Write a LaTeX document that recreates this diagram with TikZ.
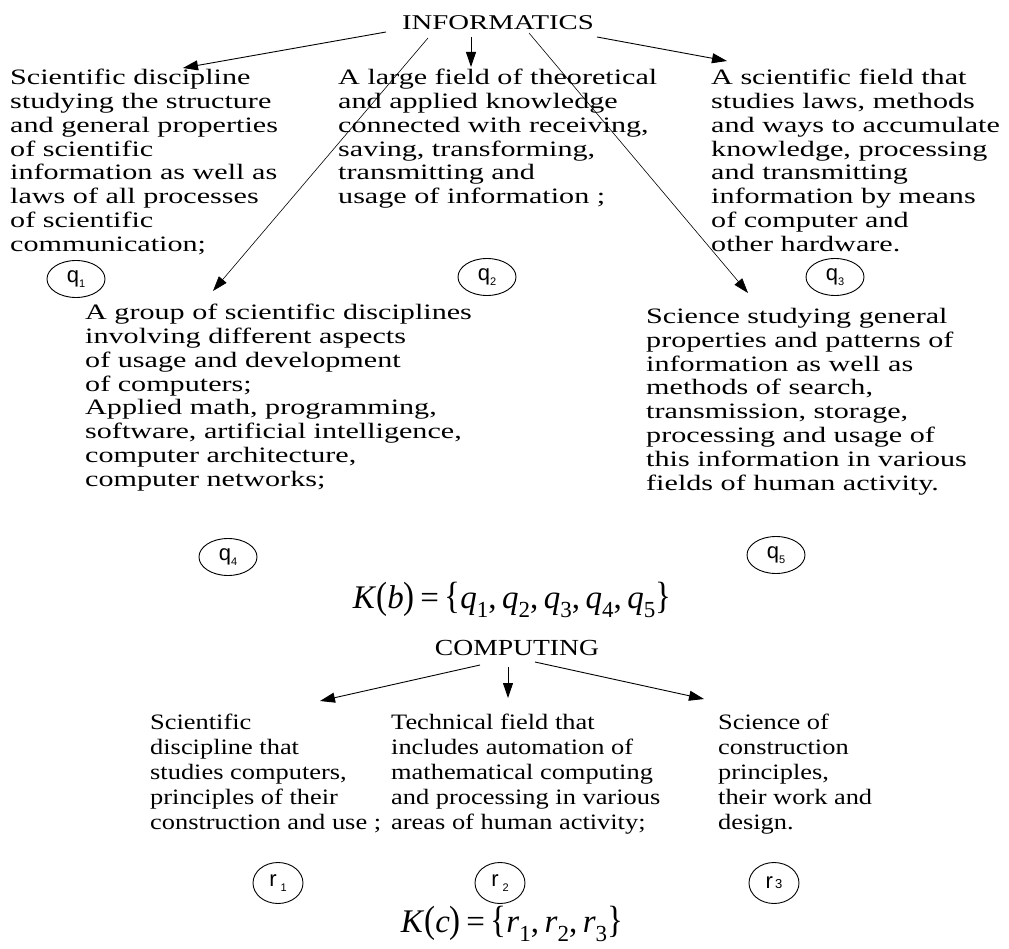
\documentclass[tikz,border=0pt]{standalone}
\usepackage{fontspec}
\setmainfont{Liberation Serif}
\newfontfamily\topfont[FakeStretch=1.37]{Liberation Serif}
\newfontfamily\botfont[FakeStretch=1.2]{Liberation Serif}
\newfontfamily\lblfont{Liberation Sans}
\usetikzlibrary{arrows.meta,shapes.geometric}
\newcommand\qsub[2]{#1\raisebox{-0.4ex}{\fontsize{11}{11}\selectfont #2}}
\newcommand\msub[1]{\raisebox{-0.25em}{\fontsize{23}{23}\selectfont #1}}
\newcommand\mi[1]{\textit{#1}}
\newcommand\tallp[1]{\scalebox{1}[1.15]{#1}}
\begin{document}
\begin{tikzpicture}[x=1pt,y=-1pt,
  txt/.style={anchor=north west, inner sep=0pt, align=left},
  toptxt/.style={txt, font=\topfont\fontsize{22}{23.8}\selectfont},
  bottxt/.style={txt, font=\botfont\fontsize{22}{25}\selectfont},
  lbl/.style={draw, ellipse, minimum width=58pt, minimum height=37pt, inner sep=0pt, line width=0.9pt, font=\lblfont\fontsize{22}{22}\selectfont},
  lblr/.style={lbl, minimum width=50pt, minimum height=41pt},
  arr/.style={line width=0.9pt, -{Triangle[length=15pt,width=10pt]}},
  longarr/.style={line width=0.6pt, -{Triangle[length=15pt,width=10pt]}},
  title/.style={inner sep=0pt},
  formula/.style={inner sep=0pt, font=\fontsize{33}{33}\selectfont}
]
\fill[white] (0,0) rectangle (1009,949);
\useasboundingbox (0,0) rectangle (1009,949);

% ---------- INFORMATICS ----------
\node[title, font=\topfont\fontsize{21}{21}\selectfont] (inf) at (498,23) {INFORMATICS};

\node[toptxt] (b1) at (10,69) {Scientific discipline\\studying the structure\\and general properties\\of scientific\\information as well as\\laws of all processes\\of scientific\\communication;};
\node[toptxt] (b2) at (338,69) {A large field of theoretical\\and applied knowledge\\connected with receiving,\\saving, transforming,\\transmitting and\\usage of information ;};
\node[toptxt] (b3) at (711,69) {A scientific field that\\studies laws, methods\\and ways to accumulate\\knowledge, processing\\and transmitting\\information by means\\of computer and\\other hardware.};
\node[toptxt] (b4) at (85,304) {A group of scientific disciplines\\involving different aspects\\of usage and development\\of computers;\\Applied math, programming,\\software, artificial intelligence,\\computer architecture,\\computer networks;};
\node[toptxt] (b5) at (646,308) {Science studying general\\properties and patterns of\\information as well as\\methods of search,\\transmission, storage,\\processing and usage of\\this information in various\\fields of human activity.};

\node[lbl] (q1) at (76,279) {\qsub{q}{1}};
\node[lbl] (q2) at (487,277) {\qsub{q}{2}};
\node[lbl] (q3) at (835,277) {\qsub{q}{3}};
\node[lbl] (q4) at (228,557) {\qsub{q}{4}};
\node[lbl] (q5) at (776,555) {\qsub{q}{5}};

\coordinate (s1) at (386,32);  \coordinate (e1) at (183,68);
\coordinate (s2) at (471,37);  \coordinate (e2) at (471,67);
\coordinate (s3) at (428,38);  \coordinate (e3) at (213,291);
\coordinate (s4) at (529,33);  \coordinate (e4) at (748,293);
\coordinate (s5) at (597,37);  \coordinate (e5) at (727,61);
\draw[arr] (s1) -- (e1);
\draw[arr] (s2) -- (e2);
\draw[longarr] (s3) -- (e3);
\draw[longarr] (s4) -- (e4);
\draw[arr] (s5) -- (e5);

\node[formula] (kb) at (512,600) {\mi{K}\tallp{(}\mi{b}\tallp{)}\,=\,\tallp{\{}\mi{q}\msub{1},\,\mi{q}\msub{2},\,\mi{q}\msub{3},\,\mi{q}\msub{4},\,\mi{q}\msub{5}\tallp{\}}};

% ---------- COMPUTING ----------
\node[title, font=\botfont\fontsize{23}{23}\selectfont] (comp) at (517,648) {COMPUTING};

\node[bottxt] (c1) at (150,714) {Scientific\\discipline that\\studies computers,\\principles of their\\construction and use ;};
\node[bottxt] (c2) at (391,714) {Technical field that\\includes automation of\\mathematical computing\\and processing in various\\areas of human activity;};
\node[bottxt] (c3) at (718,714) {Science of\\construction\\principles,\\their work and\\design.};

\node[lblr] (r1) at (278,883) {r\hspace{4pt}\raisebox{-0.45ex}{\fontsize{11}{11}\selectfont 1}};
\node[lblr] (r2) at (500,883) {r\hspace{4pt}\raisebox{-0.45ex}{\fontsize{11}{11}\selectfont 2}};
\node[lblr] (r3) at (774,883) {r\hspace{2pt}{\fontsize{13}{13}\selectfont 3}};

\coordinate (t1) at (480,665); \coordinate (f1) at (320,701);
\coordinate (t2) at (508,667); \coordinate (f2) at (508,698);
\coordinate (t3) at (535,662); \coordinate (f3) at (704,699);
\draw[arr] (t1) -- (f1);
\draw[arr] (t2) -- (f2);
\draw[arr] (t3) -- (f3);

\node[formula] (kc) at (512,924) {\mi{K}\tallp{(}\mi{c}\tallp{)}\,=\,\tallp{\{}\mi{r}\msub{1},\,\mi{r}\msub{2},\,\mi{r}\msub{3}\tallp{\}}};
\end{tikzpicture}
\end{document}
